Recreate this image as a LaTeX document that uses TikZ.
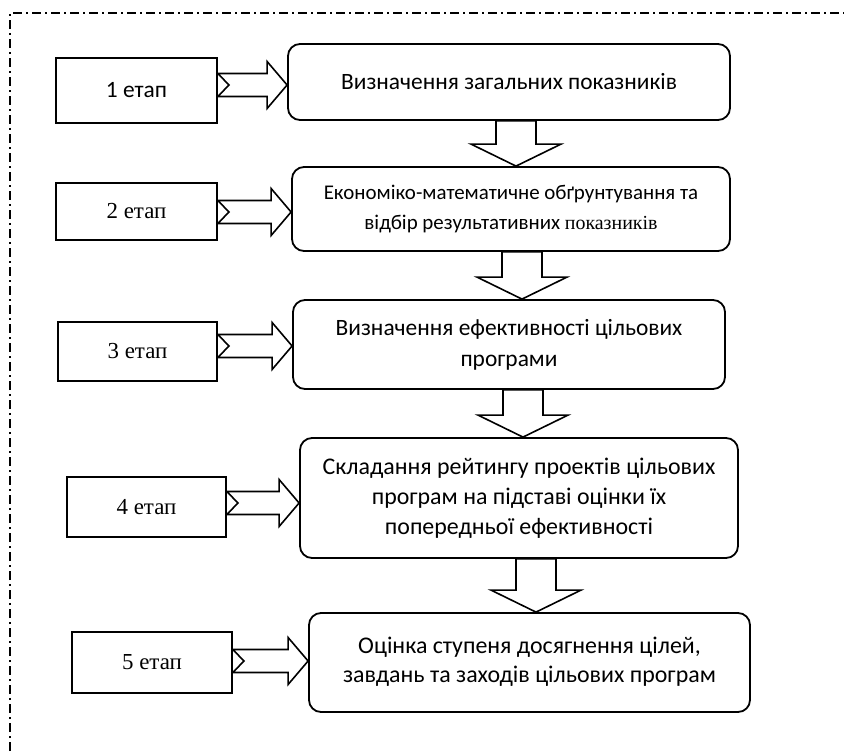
\documentclass[tikz,border=0pt]{standalone}
\usepackage{fontspec}
\setmainfont{Carlito}
\newfontfamily\tms{Liberation Serif}
\usetikzlibrary{calc}
\tikzset{
  bigbox/.style={draw, line width=1.8bp, rounded corners=12bp, align=center, inner sep=0pt},
  smallbox/.style={draw, line width=1.8bp, align=center, inner sep=0pt},
  fatarrow/.style={draw, line width=1.6bp, fill=white, line join=miter},
  frame/.style={line width=1.6bp, dash pattern=on 9bp off 4bp on 2bp off 4bp}
}
\newcommand\rarr[3]{%
  \draw[fatarrow] let \p1=(#1.east |- 0,#3), \p2=(#2.west |- 0,#3) in
   (\x1,\y1+11.5bp) -- (\x2-20bp,\y1+11.5bp) -- (\x2-20bp,\y1+23.5bp) -- (\x2,\y1)
   -- (\x2-20bp,\y1-23.5bp) -- (\x2-20bp,\y1-11.5bp) -- (\x1,\y1-11.5bp) -- (\x1+11bp,\y1) -- cycle;}
\newcommand\darr[3]{%
  \draw[fatarrow] let \p1=(#1.south -| #3,0), \p2=(#2.north -| #3,0) in
   (\x1-20bp,\y1) -- (\x1+20bp,\y1) -- (\x1+20bp,\y2+22bp) -- (\x1+45bp,\y2+22bp)
   -- (\x1,\y2) -- (\x1-45bp,\y2+22bp) -- (\x1-20bp,\y2+22bp) -- cycle;}
\begin{document}
\begin{tikzpicture}[x=1bp,y=-1bp]
\clip (0,0) rectangle (844,755);
\fill[white] (0,0) rectangle (844,755);
\draw[frame] (10,770) -- (10,13) -- (860,13);

% big boxes
\node[bigbox, minimum width=442bp, minimum height=76bp, font=\fontsize{23.5}{30}\selectfont] (b1) at (509,82)
  {Визначення загальних показників};
\node[bigbox, minimum width=438bp, minimum height=84bp, font=\fontsize{21}{30}\selectfont] (b2) at (511,209)
  {Економіко-математичне обґрунтування та\\відбір результативних {\tms\fontsize{20}{30}\selectfont показників}};
\node[bigbox, minimum width=432bp, minimum height=89bp, font=\fontsize{23.5}{31}\selectfont] (b3) at (509,344.5)
  {Визначення ефективності цільових\\програми};
\node[bigbox, minimum width=438bp, minimum height=120bp, font=\fontsize{24}{30}\selectfont] (b4) at (519,498)
  {Складання рейтингу проектів цільових\\програм на підставі оцінки їх\\попередньої ефективності};
\node[bigbox, minimum width=441bp, minimum height=99bp, font=\fontsize{24}{31}\selectfont] (b5) at (529.5,662.5)
  {\raisebox{5bp}{\shortstack{Оцінка ступеня досягнення цілей,\\[6bp]завдань та заходів цільових програм}}};

% small boxes
\node[smallbox, minimum width=161bp, minimum height=65bp, font=\fontsize{23.5}{26}\selectfont] (s1) at (136.5,90.5) {1 етап};
\node[smallbox, minimum width=161bp, minimum height=57bp, font=\tms\fontsize{23}{26}\selectfont] (s2) at (136.5,211.5) {2 етап};
\node[smallbox, minimum width=159bp, minimum height=59bp, font=\tms\fontsize{23}{26}\selectfont] (s3) at (137.5,351.5) {3 етап};
\node[smallbox, minimum width=159bp, minimum height=60bp, font=\tms\fontsize{23}{26}\selectfont] (s4) at (146.5,507) {4 етап};
\node[smallbox, minimum width=160bp, minimum height=61bp, font=\tms\fontsize{23}{26}\selectfont] (s5) at (152,662.5) {5 етап};

% right arrows
\rarr{s1}{b1}{85}
\rarr{s2}{b2}{212}
\rarr{s3}{b3}{346}
\rarr{s4}{b4}{503}
\rarr{s5}{b5}{661}

% down arrows
\darr{b1}{b2}{516}
\darr{b2}{b3}{522}
\darr{b3}{b4}{523}
\darr{b4}{b5}{536}
\end{tikzpicture}
\end{document}
